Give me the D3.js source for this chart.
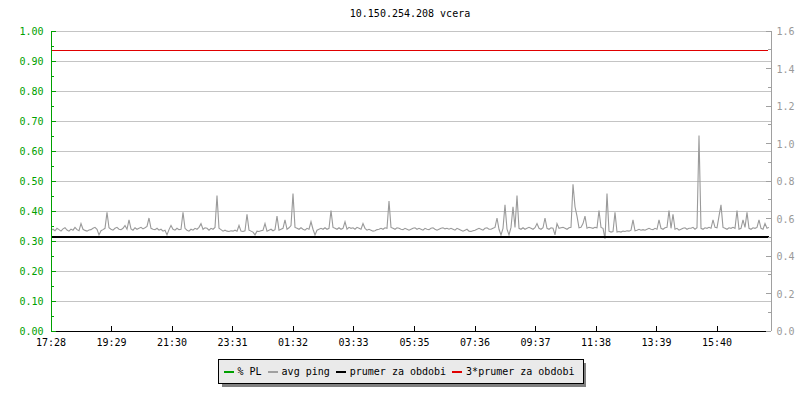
<!DOCTYPE html>
<html>
<head>
<meta charset="utf-8">
<script src="https://cdn.jsdelivr.net/npm/d3@7"></script>
<style>
body { margin: 0; background: #fff; }
text { font-family: "DejaVu Sans Mono", monospace; font-size: 10px; }
</style>
</head>
<body>
<div id="chart"></div>
<script>
var title = "10.150.254.208 vcera";
var startTime = "17:28";
var timeLabels = ["17:28", "19:29", "21:30", "23:31", "01:32", "03:33", "05:35", "07:36", "09:37", "11:38", "13:39", "15:40"];
var plTicks = [0, 0.1, 0.2, 0.3, 0.4, 0.5, 0.6, 0.7, 0.8, 0.9, 1.0];
var pingTicks = [0, 0.2, 0.4, 0.6, 0.8, 1.0, 1.2, 1.4, 1.6];
var legendLabels = ["% PL", "avg ping", "prumer za obdobi", "3*prumer za obdobi"];
var prumer = 0.498; // avg za obdobi (ms)
// avg ping, one sample per 4 minutes (ms)
var avgPing = [
  0.535,0.54,0.532,0.545,0.538,0.53,0.542,0.548,0.536,0.53,0.541,0.535,0.55,0.538,0.532,0.57,0.54,0.534,0.53,0.536,
  0.538,0.545,0.55,0.54,0.51,0.532,0.538,0.545,0.63,0.548,0.54,0.535,0.545,0.55,0.54,0.538,0.545,0.56,0.54,0.59,
  0.542,0.535,0.548,0.54,0.545,0.55,0.542,0.548,0.555,0.60,0.545,0.54,0.538,0.545,0.535,0.54,0.53,0.535,0.51,0.538,
  0.56,0.54,0.535,0.545,0.538,0.54,0.63,0.545,0.535,0.53,0.54,0.535,0.545,0.54,0.55,0.57,0.54,0.548,0.545,0.535,
  0.545,0.54,0.55,0.72,0.545,0.538,0.53,0.535,0.53,0.528,0.532,0.53,0.535,0.53,0.56,0.53,0.528,0.532,0.62,0.535,
  0.53,0.525,0.51,0.53,0.528,0.532,0.535,0.57,0.53,0.535,0.54,0.532,0.538,0.61,0.535,0.54,0.545,0.59,0.54,0.548,
  0.56,0.73,0.55,0.545,0.54,0.548,0.54,0.535,0.545,0.54,0.58,0.54,0.51,0.535,0.54,0.545,0.54,0.548,0.54,0.545,
  0.64,0.55,0.545,0.54,0.548,0.54,0.545,0.58,0.54,0.55,0.545,0.548,0.54,0.55,0.545,0.54,0.57,0.545,0.535,0.54,
  0.535,0.53,0.532,0.538,0.54,0.545,0.54,0.548,0.545,0.69,0.55,0.545,0.54,0.548,0.545,0.54,0.538,0.545,0.54,0.535,
  0.54,0.545,0.548,0.54,0.545,0.54,0.535,0.545,0.54,0.538,0.545,0.548,0.54,0.535,0.54,0.545,0.548,0.542,0.545,0.54,
  0.545,0.54,0.535,0.545,0.54,0.535,0.53,0.535,0.54,0.53,0.528,0.532,0.535,0.54,0.545,0.54,0.535,0.545,0.548,0.54,
  0.54,0.545,0.55,0.60,0.54,0.51,0.545,0.67,0.54,0.51,0.55,0.66,0.55,0.72,0.545,0.54,0.548,0.54,0.545,0.55,
  0.545,0.54,0.548,0.57,0.545,0.54,0.548,0.60,0.545,0.54,0.548,0.545,0.51,0.57,0.545,0.548,0.55,0.545,0.54,0.548,
  0.55,0.78,0.66,0.61,0.548,0.55,0.57,0.61,0.545,0.55,0.548,0.545,0.55,0.548,0.64,0.55,0.545,0.49,0.73,0.53,
  0.525,0.528,0.63,0.525,0.528,0.525,0.53,0.528,0.532,0.53,0.535,0.59,0.532,0.535,0.54,0.535,0.538,0.535,0.54,0.545,
  0.54,0.538,0.545,0.54,0.59,0.545,0.54,0.548,0.55,0.64,0.545,0.62,0.54,0.545,0.535,0.54,0.545,0.548,0.54,0.545,
  0.545,0.55,0.54,0.548,1.04,0.545,0.54,0.548,0.545,0.55,0.545,0.59,0.55,0.548,0.61,0.67,0.55,0.545,0.54,0.548,
  0.545,0.55,0.545,0.64,0.54,0.545,0.59,0.55,0.63,0.545,0.54,0.548,0.545,0.55,0.59,0.545,0.54,0.57,0.545,0.55
];

var margin = { top: 30, right: 30, bottom: 70, left: 50 },
    width = 800 - margin.left - margin.right,
    height = 400 - margin.top - margin.bottom;

function toDate(s) {
  var p = s.split(":"), d = new Date(2020, 0, 1, +p[0], +p[1]);
  if (s < startTime) d.setDate(2);
  return d;
}
var t0 = toDate(startTime),
    t1 = new Date(t0.getTime() + 24 * 3600 * 1000);

var x = d3.scaleTime().domain([t0, t1]).range([0, width]),
    yPL = d3.scaleLinear().domain([0, 1]).range([height, 0]),
    yPing = d3.scaleLinear().domain([0, 1.6]).range([height, 0]);

var svg = d3.select("#chart").append("svg")
    .attr("width", 800).attr("height", 400);

svg.append("text")
    .attr("x", margin.left + width / 2).attr("y", 17)
    .attr("text-anchor", "middle").attr("fill", "#000")
    .text(title);

var g = svg.append("g")
    .attr("transform", "translate(" + (margin.left + 0.5) + "," + (margin.top + 0.5) + ")")
    .attr("shape-rendering", "crispEdges");

// grid
g.append("g")
    .call(d3.axisLeft(yPL).tickValues(plTicks).tickSize(-width).tickFormat(""))
    .call(function(s) {
      s.select(".domain").remove();
      s.selectAll("line").attr("stroke", "#c4c4c4");
    });

// 3*prumer
g.append("line")
    .attr("x1", 0).attr("x2", width - 3)
    .attr("y1", yPing(3 * prumer)).attr("y2", yPing(3 * prumer))
    .attr("stroke", "#e00000").attr("stroke-width", 1);

// ping (sample drawn at the middle of its 4 minute slot)
var pts = avgPing.map(function(v, i) { return { t: new Date(t0.getTime() + (i * 4 + 2) * 60000), v: v }; });
g.append("path")
    .datum(pts)
    .attr("shape-rendering", "auto")
    .attr("transform", "translate(-0.5,0)")
    .attr("fill", "none").attr("stroke", "#9a9a9a").attr("stroke-width", 1.1)
    .attr("d", d3.line()
      .x(function(d) { return x(d.t); })
      .y(function(d) { return yPing(d.v); }));

// prumer
g.append("line")
    .attr("x1", 0).attr("x2", width - 2)
    .attr("y1", yPing(prumer)).attr("y2", yPing(prumer))
    .attr("stroke", "#000").attr("stroke-width", 2);

// x axis
g.append("g")
    .attr("transform", "translate(0," + height + ")")
    .call(d3.axisBottom(x).tickValues(timeLabels.map(toDate))
      .tickFormat(d3.timeFormat("%H:%M")).tickSize(-5).tickSizeOuter(0).tickPadding(8))
    .call(function(s) {
      s.selectAll("line,path").attr("stroke", "#000");
      s.selectAll("text").attr("fill", "#000").style("font-size", "10px").style("font-family", "DejaVu Sans Mono");
    });

// left axis (% PL)
var green = "#00a000";
g.append("g")
    .call(d3.axisLeft(yPL).tickValues(d3.range(0.05, 1, 0.1)).tickSize(-3).tickSizeOuter(0).tickFormat(""))
    .call(function(s) { s.selectAll("line,path").attr("stroke", green); });
g.append("g")
    .call(d3.axisLeft(yPL).tickValues(plTicks).tickSize(-5).tickSizeOuter(0)
      .tickPadding(7).tickFormat(d3.format(".2f")))
    .call(function(s) {
      s.selectAll("line,path").attr("stroke", green);
      s.selectAll("text").attr("fill", green).attr("dy", "0.4em")
        .style("font-size", "10px").style("font-family", "DejaVu Sans Mono");
    });

// right axis (ping)
var grey = "#a0a0a0";
g.append("g")
    .attr("transform", "translate(" + width + ",0)")
    .call(d3.axisRight(yPing).tickValues(d3.range(0.1, 1.6, 0.2)).tickSize(-3).tickSizeOuter(0).tickFormat(""))
    .call(function(s) { s.selectAll("line,path").attr("stroke", grey); });
g.append("g")
    .attr("transform", "translate(" + width + ",0)")
    .call(d3.axisRight(yPing).tickValues(pingTicks).tickSize(-5).tickSizeOuter(0)
      .tickPadding(6).tickFormat(d3.format(".1f")))
    .call(function(s) {
      s.selectAll("line,path").attr("stroke", grey);
      s.selectAll("text").attr("fill", "#999").attr("dy", "0.4em")
        .style("font-size", "10px").style("font-family", "DejaVu Sans Mono");
    });

// legend
var legColors = [green, "#a0a0a0", "#000", "#e00000"];
var leg = svg.append("g").attr("shape-rendering", "crispEdges");
var shadow = leg.append("rect").attr("fill", "#808080");
var box = leg.append("rect").attr("fill", "#eaeaea").attr("stroke", "#000");
var lx = 0, items = leg.append("g");
legendLabels.forEach(function(l, i) {
  items.append("rect").attr("x", lx).attr("y", -1).attr("width", 10).attr("height", 2).attr("fill", legColors[i]);
  var t = items.append("text").attr("x", lx + 14).attr("y", 3.5).attr("fill", "#000").text(l);
  lx += 14 + t.node().getComputedTextLength() + 6;
});
var lw = lx - 6 + 14, lh = 24;
var bx = Math.round(400 - lw / 2) + 0.5, by = 359.5;
box.attr("x", bx).attr("y", by).attr("width", lw).attr("height", lh);
shadow.attr("x", bx + 3).attr("y", by + 3).attr("width", lw).attr("height", lh);
items.attr("transform", "translate(" + (bx + 5) + "," + (by + lh / 2) + ")");
</script>
</body>
</html>
